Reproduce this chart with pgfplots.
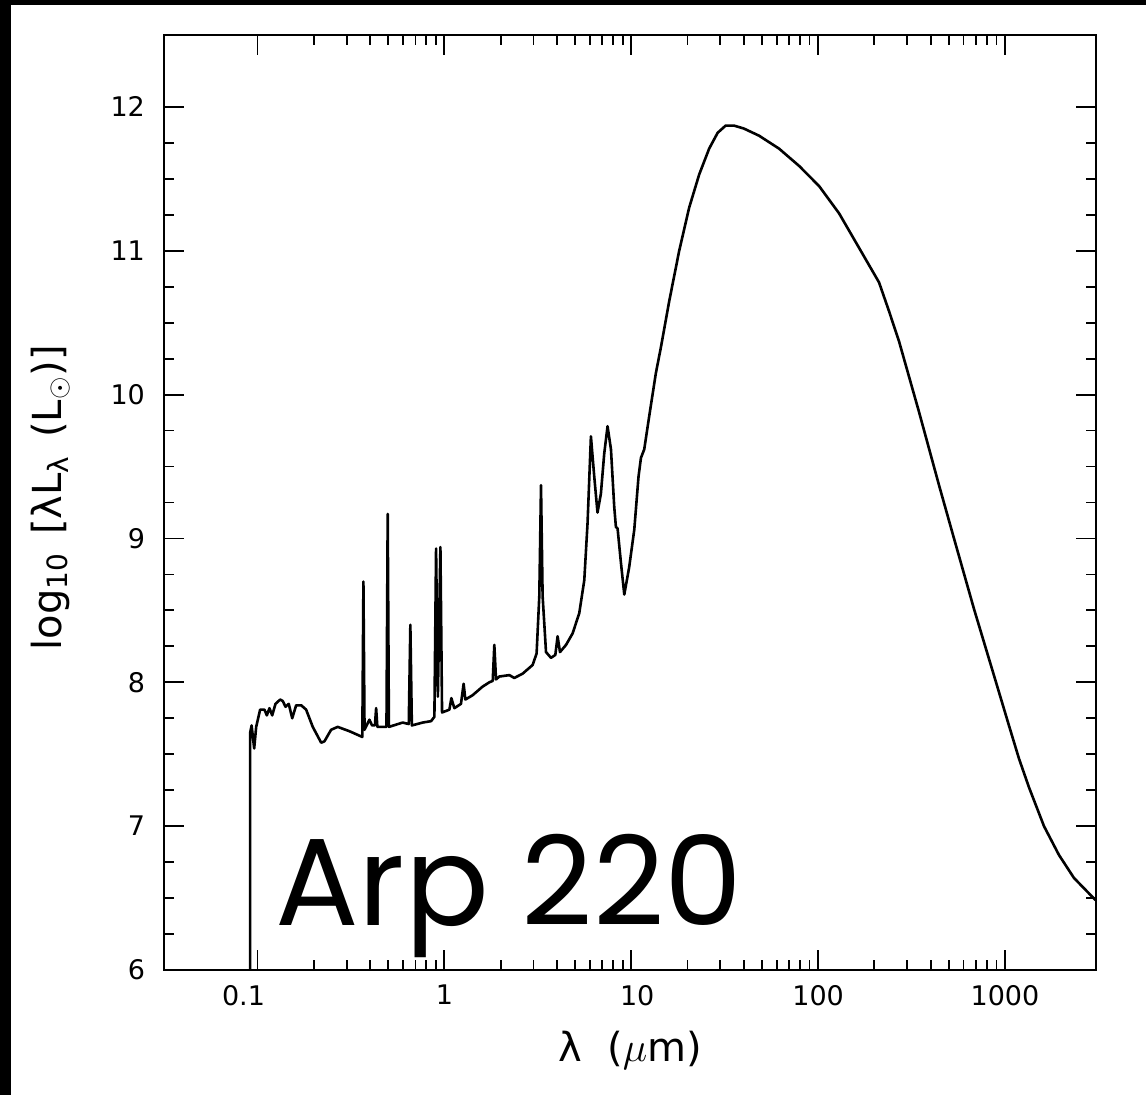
\documentclass[border=0pt]{standalone}
\usepackage{fontspec}
\setmainfont{DejaVu Sans}
\newfontfamily\arpfont{Poppins}
\usepackage{pgfplots}
\pgfplotsset{compat=1.18}

% model SED of Arp 220: lambda (micron), log10 lambda L_lambda (Lsun)
\begin{document}
\begin{tikzpicture}
\fill[black] (0,0) rectangle (573pt,547.5pt);
\fill[white] (5.5pt,0) rectangle (573pt,545pt);
\begin{axis}[
    at={(82pt,62.5pt)}, anchor=south west,
    scale only axis, width=466pt, height=467.5pt,
    xmode=log, xmin=0.0316, xmax=3070,
    ymin=6, ymax=12.5,
    xtick={0.1,1,10,100,1000},
    xticklabels={\hspace*{-14pt}0.1,1,10\hspace*{-6pt},100,1000},
    ytick={6,7,8,9,10,11,12}, minor y tick num=3,
    major tick length=10pt, minor tick length=5pt,
    every tick/.style={black, line width=0.9pt},
    axis line style={line width=1.3pt},
    /pgf/number format/assume math mode=true,
    tick label style={font=\fontsize{13.5}{16}\selectfont},
    xticklabel style={yshift=-4pt},
    yticklabel style={xshift=-6pt},
    label style={font=\fontsize{20}{24}\selectfont},
    xlabel={λ\ \ ($\mu$m)},
    ylabel={log\textsubscript{10}\hspace{0.45em}[λL\textsubscript{λ}\hspace{0.45em}(L$_\odot$)]},
    xlabel style={at={(axis description cs:0.5,-0.0856)}, anchor=center},
    ylabel style={at={(axis description cs:-0.122,0.505)}, anchor=center},
]
\addplot[black, line width=1.3pt, line join=round, mark=none] coordinates {
(0.0912,5.5) (0.0914,7.65) (0.0930,7.70) (0.0960,7.54) (0.0984,7.69)
(0.1033,7.81) (0.109,7.81) (0.1122,7.77) (0.1159,7.82) (0.1199,7.77)
(0.1248,7.85) (0.1322,7.88) (0.1365,7.87) (0.1412,7.83) (0.1470,7.85)
(0.1534,7.75) (0.1610,7.84) (0.1714,7.84) (0.1821,7.81) (0.1976,7.69)
(0.2192,7.58) (0.2283,7.59) (0.2477,7.67) (0.2687,7.69) (0.3104,7.66)
(0.3640,7.62) (0.3689,8.70) (0.3740,7.67) (0.3972,7.74) (0.4104,7.70)
(0.4250,7.70) (0.4314,7.82) (0.4380,7.69) (0.4900,7.69) (0.4975,9.17) (0.5050,7.69)
(0.5985,7.72) (0.6450,7.71) (0.6577,8.40) (0.6700,7.70) (0.7655,7.72) (0.8493,7.73)
(0.8844,7.76) (0.9030,8.93) (0.923,7.90) (0.9525,8.94) (0.972,7.79)
(1.064,7.81) (1.09,7.89) (1.131,7.82) (1.227,7.85) (1.268,7.99)
(1.295,7.88) (1.416,7.91) (1.602,7.97) (1.741,8.00) (1.815,8.01) (1.851,8.26)
(1.890,8.02) (1.968,8.04) (2.228,8.05) (2.366,8.03) (2.623,8.06)
(2.966,8.12) (3.116,8.20) (3.222,8.60) (3.29,9.37) (3.356,8.60)
(3.499,8.21) (3.722,8.17) (3.925,8.19) (4.036,8.32) (4.157,8.21)
(4.478,8.26) (4.856,8.34) (5.27,8.48) (5.608,8.71) (5.84,9.11)
(6.085,9.71) (6.34,9.43) (6.60,9.18) (6.88,9.31) (7.17,9.59)
(7.47,9.78) (7.79,9.62) (8.11,9.22) (8.28,9.08) (8.45,9.07)
(8.81,8.83) (9.18,8.61) (9.75,8.80) (10.38,9.06) (10.94,9.43)
(11.27,9.56) (11.74,9.62) (12.48,9.85) (13.55,10.15) (14.42,10.33)
(15.97,10.65) (18.06,11.00) (20.42,11.30) (23.10,11.53) (26.12,11.71)
(29.0,11.82) (32.0,11.87) (35.5,11.87) (40.0,11.85) (48.3,11.80)
(61.8,11.71) (79.1,11.59) (101.2,11.45) (129.5,11.26) (165.7,11.02)
(187.4,10.90) (211.9,10.78) (239.6,10.58) (271.1,10.37) (346.7,9.88)
(443.7,9.37) (533.6,9.00) (682.7,8.51) (895.6,8.00) (1050,7.70)
(1188,7.47) (1344,7.27) (1617,7.00) (1944,6.80) (2339,6.64)
(3029,6.49) (3183,6.47)
};
\node[anchor=base west, inner sep=0pt, font=\arpfont\fontsize{62}{68}\selectfont]
    at (rel axis cs:0.119,0.048) {Arp 220};
\end{axis}
\end{tikzpicture}
\end{document}
